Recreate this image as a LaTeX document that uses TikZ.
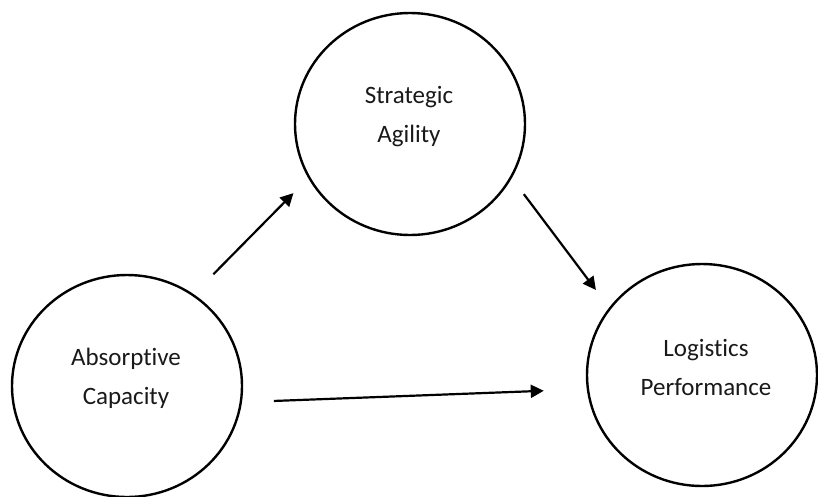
\documentclass[tikz,border=0pt]{standalone}
\usepackage{fontspec}
\setmainfont{Carlito}[Ligatures=NoCommon]
\usepackage{tikz}
\usetikzlibrary{arrows.meta,shapes.geometric}

\begin{document}
\begin{tikzpicture}[
  x=1pt,
  y=-1pt,
  construct/.style={ellipse, draw=black, line width=2.4pt, minimum width=230pt, minimum height=222pt, inner sep=0pt},
  caption/.style={font=\fontsize{25}{39}\selectfont, align=center, text=black!90},
  effect/.style={-{Triangle[length=13pt,width=13pt]}, line width=2.2pt}
]
  \useasboundingbox (0,0) rectangle (818,496);

  \node[construct] (ac) at (127,386) {};
  \node[construct] (sa) at (410,124) {};
  \node[construct] (lp) at (702,375) {};

  \node[caption] (actext) at (126,378) {Absorptive\\Capacity};
  \node[caption] (satext) at (409,117) {Strategic\\Agility};
  \node[caption] (lptext) at (706,367) {Logistics\\Performance};

  \draw[effect, shorten <=28pt, shorten >=21pt] (ac.54) -- (sa.208);
  \draw[effect, shorten <=20pt, shorten >=22pt] (sa.-28) -- (lp.144);
  \draw[effect, shorten <=32pt, shorten >=43pt] (ac.-8) -- (lp.187);
\end{tikzpicture}
\end{document}
